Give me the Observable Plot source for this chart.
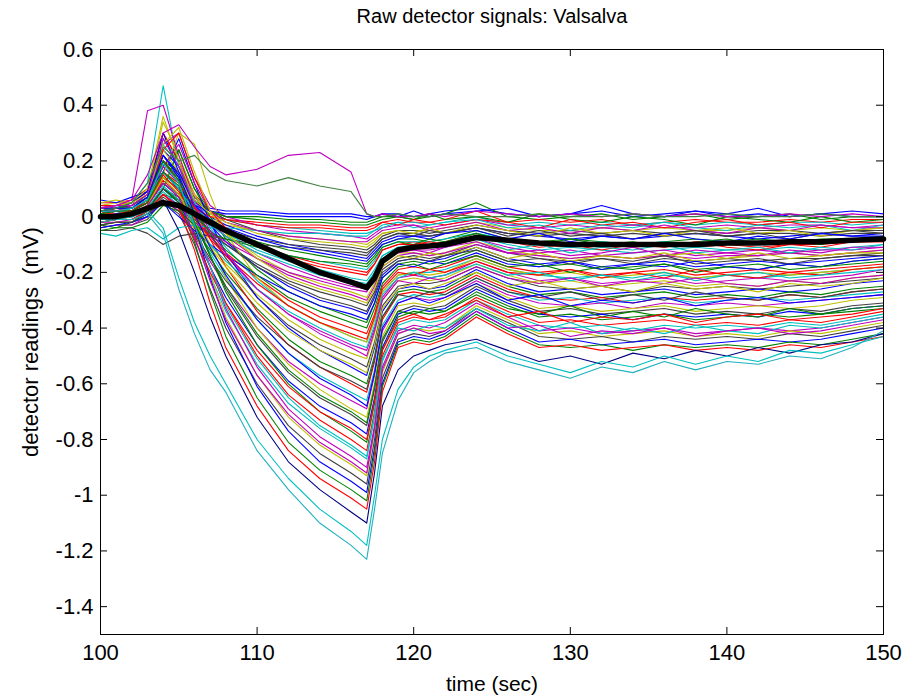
<!DOCTYPE html>
<html>
<head>
<meta charset="utf-8">
<script src="https://cdn.jsdelivr.net/npm/d3@7"></script>
<script src="https://cdn.jsdelivr.net/npm/@observablehq/plot@0.6"></script>
<style>
  html, body { margin: 0; padding: 0; background: #ffffff; }
  #chart svg { display: block; font-family: "Liberation Sans", Arial, sans-serif; }
</style>
</head>
<body>
<div id="chart"></div>
<script>
// ---------- data ----------
const titleText = "Raw detector signals: Valsalva";
const xLabel = "time (sec)";
const yLabel = "detector readings\u00a0 (mV)";

const times = [100,101,102,103,104,105,106,107,108,110,112,114,116,117,117.5,118,119,120,121,122,124,126,128,130,132,134,136,138,140,142,144,146,148,150];

const xTicks = [100,110,120,130,140,150];
const yTicks = [0.6,0.4,0.2,0,-0.2,-0.4,-0.6,-0.8,-1,-1.2,-1.4];

// mean signal (thick black)
const meanSignal = [0.00,0.00,0.01,0.03,0.05,0.04,0.01,-0.02,-0.05,-0.10,-0.15,-0.20,-0.235,-0.255,-0.22,-0.16,-0.12,-0.11,-0.105,-0.10,-0.075,-0.085,-0.095,-0.10,-0.10,-0.10,-0.10,-0.10,-0.095,-0.095,-0.09,-0.09,-0.085,-0.08];

// individual detector signals
const signals = [
  [0.03,0.04,0.03,0.06,0.12,0.08,0.05,0.03,0.02,0.02,0.01,0.01,0.01,0.00,0.00,0.01,0.01,0.00,0.01,0.02,0.03,0.01,0.00,0.01,0.02,0.00,0.01,0.02,0.00,0.01,0.00,0.01,0.00,0.00],
  [0.02,0.03,0.04,0.08,0.22,0.15,0.06,0.02,0.00,0.00,-0.01,-0.01,-0.02,-0.02,-0.01,0.00,0.00,-0.01,0.00,0.01,0.05,0.00,-0.01,0.00,0.01,-0.01,0.00,0.01,-0.01,0.00,0.01,-0.01,0.00,0.00],
  [0.05,0.05,0.06,0.10,0.30,0.20,0.08,0.02,-0.01,-0.02,-0.03,-0.03,-0.04,-0.04,-0.03,-0.02,-0.01,-0.02,-0.02,-0.01,0.02,-0.02,-0.01,-0.02,-0.01,-0.03,-0.02,-0.01,-0.02,-0.02,-0.01,-0.02,-0.01,-0.01],
  [0.00,0.01,0.02,0.05,0.18,0.12,0.04,0.01,-0.01,-0.03,-0.04,-0.05,-0.06,-0.06,-0.05,-0.03,-0.02,-0.02,-0.03,-0.02,0.00,-0.03,-0.02,-0.03,-0.02,-0.03,-0.02,-0.03,-0.02,-0.03,-0.02,-0.02,-0.03,-0.02],
  [0.04,0.03,0.05,0.09,0.26,0.30,0.14,0.04,0.00,-0.03,-0.05,-0.06,-0.07,-0.08,-0.06,-0.04,-0.03,-0.03,-0.04,-0.03,-0.01,-0.03,-0.04,-0.03,-0.04,-0.03,-0.04,-0.04,-0.03,-0.04,-0.03,-0.03,-0.04,-0.03],
  [-0.02,-0.01,0.00,0.03,0.14,0.10,0.03,-0.01,-0.03,-0.05,-0.07,-0.08,-0.09,-0.10,-0.08,-0.06,-0.05,-0.05,-0.05,-0.04,-0.02,-0.04,-0.05,-0.05,-0.04,-0.05,-0.04,-0.05,-0.05,-0.04,-0.05,-0.04,-0.05,-0.04],
  [0.01,0.02,0.03,0.07,0.20,0.16,0.07,0.02,-0.01,-0.05,-0.08,-0.10,-0.11,-0.12,-0.10,-0.07,-0.05,-0.05,-0.06,-0.05,-0.03,-0.05,-0.06,-0.05,-0.06,-0.05,-0.06,-0.05,-0.06,-0.05,-0.05,-0.06,-0.05,-0.05],
  [0.03,0.04,0.04,0.08,0.24,0.18,0.06,0.00,-0.03,-0.07,-0.10,-0.12,-0.14,-0.15,-0.12,-0.09,-0.07,-0.07,-0.07,-0.06,-0.04,-0.06,-0.07,-0.08,-0.07,-0.08,-0.07,-0.06,-0.07,-0.08,-0.07,-0.06,-0.07,-0.06],
  [-0.03,-0.02,-0.02,0.00,0.08,0.06,0.00,-0.03,-0.05,-0.09,-0.12,-0.14,-0.16,-0.17,-0.14,-0.10,-0.08,-0.08,-0.09,-0.08,-0.05,-0.08,-0.09,-0.08,-0.09,-0.10,-0.09,-0.08,-0.09,-0.08,-0.09,-0.08,-0.08,-0.07],
  [0.02,0.03,0.03,0.06,0.16,0.12,0.04,-0.01,-0.05,-0.10,-0.14,-0.17,-0.19,-0.20,-0.17,-0.12,-0.10,-0.09,-0.10,-0.09,-0.06,-0.09,-0.10,-0.11,-0.10,-0.11,-0.10,-0.11,-0.10,-0.11,-0.10,-0.10,-0.09,-0.09],
  [0.00,0.01,0.02,0.05,0.28,0.20,0.05,-0.02,-0.06,-0.12,-0.16,-0.19,-0.22,-0.23,-0.19,-0.14,-0.11,-0.10,-0.11,-0.10,-0.07,-0.10,-0.12,-0.11,-0.12,-0.13,-0.12,-0.11,-0.12,-0.12,-0.11,-0.12,-0.11,-0.10],
  [-0.01,0.00,0.01,0.04,0.12,0.08,0.02,-0.03,-0.07,-0.13,-0.18,-0.22,-0.25,-0.26,-0.22,-0.16,-0.12,-0.12,-0.12,-0.11,-0.08,-0.11,-0.13,-0.12,-0.14,-0.13,-0.12,-0.14,-0.13,-0.12,-0.13,-0.12,-0.12,-0.11],
  [0.04,0.05,0.05,0.09,0.34,0.22,0.08,0.00,-0.06,-0.14,-0.20,-0.24,-0.27,-0.29,-0.24,-0.17,-0.13,-0.13,-0.14,-0.13,-0.09,-0.12,-0.14,-0.15,-0.14,-0.15,-0.14,-0.13,-0.15,-0.14,-0.13,-0.14,-0.13,-0.12],
  [-0.04,-0.03,-0.03,-0.01,0.06,0.02,-0.03,-0.07,-0.10,-0.17,-0.23,-0.27,-0.30,-0.32,-0.27,-0.19,-0.15,-0.14,-0.15,-0.14,-0.10,-0.13,-0.15,-0.16,-0.15,-0.17,-0.15,-0.16,-0.15,-0.16,-0.15,-0.15,-0.14,-0.13],
  [0.01,0.02,0.02,0.06,0.22,0.16,0.04,-0.03,-0.09,-0.18,-0.25,-0.30,-0.33,-0.35,-0.29,-0.21,-0.16,-0.15,-0.16,-0.15,-0.11,-0.15,-0.17,-0.16,-0.18,-0.17,-0.16,-0.18,-0.17,-0.16,-0.17,-0.16,-0.15,-0.14],
  [0.02,0.03,0.04,0.07,0.18,0.24,0.10,0.00,-0.08,-0.19,-0.27,-0.32,-0.36,-0.38,-0.31,-0.22,-0.17,-0.16,-0.17,-0.16,-0.12,-0.16,-0.18,-0.17,-0.19,-0.18,-0.17,-0.19,-0.18,-0.19,-0.17,-0.18,-0.16,-0.15],
  [-0.02,-0.01,0.00,0.03,0.10,0.06,-0.01,-0.07,-0.13,-0.22,-0.30,-0.36,-0.40,-0.42,-0.35,-0.25,-0.19,-0.18,-0.19,-0.18,-0.14,-0.18,-0.20,-0.19,-0.21,-0.20,-0.19,-0.21,-0.20,-0.19,-0.20,-0.19,-0.18,-0.17],
  [0.03,0.04,0.04,0.08,0.26,0.18,0.05,-0.04,-0.11,-0.23,-0.32,-0.38,-0.43,-0.45,-0.37,-0.27,-0.21,-0.20,-0.20,-0.19,-0.15,-0.19,-0.21,-0.22,-0.21,-0.23,-0.21,-0.22,-0.21,-0.22,-0.21,-0.20,-0.19,-0.18],
  [0.00,0.01,0.01,0.04,0.14,0.10,0.01,-0.07,-0.14,-0.26,-0.35,-0.41,-0.46,-0.48,-0.40,-0.29,-0.22,-0.21,-0.22,-0.21,-0.16,-0.20,-0.23,-0.22,-0.24,-0.23,-0.22,-0.24,-0.23,-0.22,-0.23,-0.22,-0.21,-0.19],
  [-0.03,-0.02,-0.02,0.01,0.08,0.04,-0.04,-0.10,-0.17,-0.28,-0.37,-0.44,-0.49,-0.51,-0.42,-0.30,-0.23,-0.22,-0.23,-0.22,-0.17,-0.21,-0.24,-0.23,-0.25,-0.24,-0.23,-0.25,-0.24,-0.25,-0.23,-0.24,-0.22,-0.21],
  [0.02,0.03,0.03,0.07,0.20,0.14,0.03,-0.06,-0.15,-0.29,-0.39,-0.46,-0.51,-0.54,-0.45,-0.32,-0.25,-0.24,-0.24,-0.23,-0.18,-0.22,-0.25,-0.26,-0.25,-0.27,-0.25,-0.26,-0.25,-0.26,-0.25,-0.24,-0.23,-0.22],
  [0.01,0.02,0.02,0.05,0.16,0.28,0.12,-0.02,-0.13,-0.29,-0.40,-0.48,-0.54,-0.57,-0.47,-0.34,-0.26,-0.25,-0.26,-0.25,-0.19,-0.24,-0.27,-0.26,-0.28,-0.27,-0.26,-0.28,-0.27,-0.26,-0.27,-0.26,-0.24,-0.23],
  [-0.02,-0.01,-0.01,0.02,0.10,0.06,-0.04,-0.12,-0.20,-0.33,-0.44,-0.52,-0.57,-0.60,-0.50,-0.36,-0.27,-0.26,-0.27,-0.26,-0.20,-0.25,-0.28,-0.27,-0.29,-0.28,-0.27,-0.29,-0.28,-0.29,-0.27,-0.28,-0.26,-0.25],
  [0.04,0.04,0.05,0.09,0.30,0.20,0.04,-0.08,-0.18,-0.34,-0.46,-0.54,-0.60,-0.63,-0.52,-0.37,-0.28,-0.27,-0.28,-0.27,-0.21,-0.26,-0.29,-0.30,-0.29,-0.31,-0.29,-0.30,-0.29,-0.30,-0.28,-0.29,-0.27,-0.26],
  [0.00,0.00,0.01,0.04,0.12,0.08,-0.03,-0.13,-0.22,-0.37,-0.49,-0.57,-0.63,-0.66,-0.55,-0.39,-0.30,-0.28,-0.29,-0.28,-0.22,-0.27,-0.30,-0.29,-0.31,-0.30,-0.29,-0.31,-0.30,-0.29,-0.30,-0.29,-0.28,-0.27],
  [-0.04,-0.03,-0.03,0.00,0.06,0.02,-0.07,-0.16,-0.25,-0.40,-0.52,-0.60,-0.66,-0.69,-0.57,-0.41,-0.31,-0.29,-0.30,-0.29,-0.23,-0.28,-0.31,-0.32,-0.31,-0.33,-0.31,-0.32,-0.31,-0.32,-0.31,-0.30,-0.29,-0.28],
  [0.02,0.03,0.03,0.06,0.24,0.16,0.02,-0.10,-0.22,-0.40,-0.53,-0.62,-0.69,-0.72,-0.60,-0.43,-0.32,-0.31,-0.32,-0.30,-0.24,-0.29,-0.33,-0.32,-0.34,-0.33,-0.32,-0.34,-0.33,-0.32,-0.33,-0.32,-0.30,-0.29],
  [0.01,0.01,0.02,0.05,0.14,0.10,-0.02,-0.14,-0.26,-0.43,-0.56,-0.65,-0.71,-0.75,-0.62,-0.45,-0.34,-0.32,-0.33,-0.32,-0.25,-0.30,-0.34,-0.33,-0.35,-0.34,-0.33,-0.35,-0.34,-0.35,-0.33,-0.34,-0.32,-0.31],
  [-0.01,0.00,0.00,0.03,0.10,0.05,-0.06,-0.18,-0.29,-0.46,-0.59,-0.68,-0.74,-0.78,-0.65,-0.47,-0.35,-0.33,-0.34,-0.33,-0.26,-0.31,-0.35,-0.36,-0.35,-0.37,-0.35,-0.36,-0.35,-0.36,-0.34,-0.35,-0.33,-0.32],
  [0.03,0.03,0.04,0.08,0.20,0.13,0.00,-0.14,-0.27,-0.46,-0.60,-0.70,-0.77,-0.81,-0.67,-0.48,-0.36,-0.34,-0.35,-0.34,-0.27,-0.32,-0.36,-0.35,-0.37,-0.36,-0.35,-0.37,-0.36,-0.35,-0.36,-0.35,-0.34,-0.33],
  [0.00,0.01,0.01,0.04,0.13,0.08,-0.04,-0.18,-0.31,-0.50,-0.64,-0.73,-0.80,-0.84,-0.70,-0.50,-0.38,-0.36,-0.37,-0.36,-0.29,-0.34,-0.38,-0.37,-0.39,-0.38,-0.37,-0.39,-0.38,-0.39,-0.37,-0.38,-0.36,-0.34],
  [-0.02,-0.01,-0.01,0.02,0.09,0.04,-0.08,-0.21,-0.34,-0.53,-0.67,-0.76,-0.83,-0.87,-0.72,-0.52,-0.39,-0.37,-0.38,-0.37,-0.30,-0.35,-0.39,-0.40,-0.39,-0.41,-0.39,-0.40,-0.39,-0.40,-0.38,-0.39,-0.37,-0.35],
  [0.02,0.02,0.03,0.06,0.18,0.12,-0.02,-0.18,-0.33,-0.54,-0.69,-0.79,-0.86,-0.90,-0.75,-0.54,-0.41,-0.39,-0.40,-0.38,-0.31,-0.36,-0.41,-0.40,-0.42,-0.41,-0.40,-0.42,-0.41,-0.40,-0.41,-0.40,-0.38,-0.36],
  [0.01,0.01,0.02,0.05,0.15,0.09,-0.05,-0.21,-0.36,-0.57,-0.72,-0.82,-0.89,-0.93,-0.77,-0.56,-0.42,-0.40,-0.41,-0.40,-0.32,-0.37,-0.42,-0.41,-0.43,-0.42,-0.41,-0.43,-0.42,-0.43,-0.41,-0.42,-0.40,-0.38],
  [-0.03,-0.02,-0.02,0.01,0.05,0.01,-0.10,-0.26,-0.40,-0.60,-0.75,-0.85,-0.92,-0.96,-0.80,-0.58,-0.44,-0.42,-0.43,-0.41,-0.33,-0.38,-0.43,-0.44,-0.43,-0.45,-0.43,-0.44,-0.43,-0.44,-0.42,-0.43,-0.41,-0.39],
  [0.02,0.02,0.03,0.07,0.22,0.14,-0.03,-0.22,-0.38,-0.61,-0.77,-0.88,-0.95,-0.99,-0.83,-0.60,-0.45,-0.43,-0.44,-0.42,-0.34,-0.40,-0.45,-0.44,-0.46,-0.45,-0.44,-0.46,-0.45,-0.44,-0.45,-0.44,-0.42,-0.40],
  [0.00,0.00,0.01,0.03,0.10,0.05,-0.09,-0.27,-0.43,-0.65,-0.81,-0.91,-0.98,-1.02,-0.85,-0.61,-0.46,-0.44,-0.45,-0.43,-0.35,-0.41,-0.46,-0.47,-0.46,-0.48,-0.46,-0.47,-0.46,-0.47,-0.45,-0.46,-0.44,-0.42],
  [-0.01,0.00,0.00,0.02,0.08,0.03,-0.12,-0.31,-0.47,-0.68,-0.84,-0.94,-1.01,-1.05,-0.88,-0.63,-0.47,-0.45,-0.46,-0.44,-0.36,-0.42,-0.47,-0.46,-0.48,-0.47,-0.46,-0.48,-0.47,-0.48,-0.46,-0.47,-0.45,-0.43],
  [0.02,0.03,0.05,0.12,0.47,0.18,0.05,-0.01,-0.05,-0.10,-0.14,-0.16,-0.18,-0.19,-0.16,-0.11,-0.09,-0.09,-0.09,-0.08,-0.06,-0.08,-0.09,-0.10,-0.09,-0.10,-0.09,-0.10,-0.09,-0.10,-0.09,-0.09,-0.08,-0.08],
  [0.03,0.04,0.06,0.38,0.40,0.22,0.06,-0.02,-0.07,-0.15,-0.21,-0.25,-0.28,-0.30,-0.25,-0.18,-0.14,-0.13,-0.14,-0.13,-0.10,-0.13,-0.14,-0.15,-0.14,-0.15,-0.14,-0.15,-0.14,-0.14,-0.13,-0.14,-0.13,-0.12],
  [0.01,0.02,0.03,0.06,0.15,0.30,0.26,0.08,-0.06,-0.22,-0.32,-0.38,-0.43,-0.45,-0.37,-0.27,-0.21,-0.20,-0.21,-0.20,-0.15,-0.19,-0.21,-0.20,-0.22,-0.21,-0.20,-0.22,-0.21,-0.20,-0.21,-0.20,-0.19,-0.18],
  [-0.05,-0.05,-0.04,-0.06,-0.10,-0.07,-0.06,-0.07,-0.08,-0.10,-0.11,-0.12,-0.13,-0.14,-0.11,-0.08,-0.06,-0.06,-0.07,-0.06,-0.04,-0.06,-0.07,-0.06,-0.07,-0.06,-0.07,-0.06,-0.07,-0.06,-0.06,-0.07,-0.06,-0.06],
  [0.06,0.05,0.07,0.09,0.16,0.10,0.04,0.02,0.01,0.01,0.00,0.00,0.00,-0.01,0.00,0.01,0.00,0.02,0.00,0.01,0.02,0.03,0.00,0.01,0.04,0.01,0.00,0.02,0.01,0.03,0.00,0.01,0.02,0.01],
  [-0.03,-0.04,-0.02,0.02,0.10,0.24,0.10,0.02,0.00,-0.01,-0.02,-0.02,-0.03,-0.03,-0.02,-0.01,0.00,-0.01,0.01,-0.01,0.00,-0.02,0.01,-0.01,-0.02,0.00,-0.01,-0.03,0.00,-0.01,-0.02,0.00,-0.02,-0.01],
  [0.01,0.03,0.02,0.05,0.20,0.12,0.03,0.00,-0.01,-0.03,-0.04,-0.04,-0.05,-0.05,-0.04,-0.02,-0.03,-0.01,-0.02,-0.03,-0.01,-0.02,-0.04,-0.01,-0.03,-0.02,-0.04,-0.02,-0.01,-0.03,-0.02,-0.04,-0.02,-0.02],
  [-0.06,-0.07,-0.05,-0.04,-0.08,-0.04,-0.03,-0.04,-0.04,-0.05,-0.06,-0.06,-0.07,-0.07,-0.05,-0.04,-0.02,-0.04,-0.03,-0.02,-0.01,-0.04,-0.03,-0.05,-0.03,-0.04,-0.02,-0.04,-0.05,-0.03,-0.04,-0.03,-0.05,-0.03],
  [0.02,0.02,0.04,0.08,0.18,0.26,0.12,0.02,-0.02,-0.05,-0.07,-0.08,-0.09,-0.09,-0.07,-0.05,-0.04,-0.03,-0.05,-0.04,-0.02,-0.05,-0.04,-0.06,-0.04,-0.05,-0.03,-0.05,-0.06,-0.04,-0.05,-0.03,-0.04,-0.04],
  [0.05,0.06,0.05,0.10,0.36,0.20,0.06,0.01,-0.02,-0.06,-0.08,-0.09,-0.10,-0.11,-0.09,-0.06,-0.05,-0.06,-0.04,-0.06,-0.03,-0.05,-0.07,-0.04,-0.06,-0.05,-0.07,-0.05,-0.04,-0.06,-0.05,-0.07,-0.05,-0.04],
  [-0.01,0.00,0.01,0.03,0.10,0.07,0.01,-0.03,-0.05,-0.08,-0.10,-0.11,-0.12,-0.13,-0.11,-0.08,-0.06,-0.07,-0.05,-0.06,-0.04,-0.07,-0.05,-0.07,-0.06,-0.08,-0.06,-0.05,-0.07,-0.06,-0.08,-0.06,-0.05,-0.06],
  [0.03,0.03,0.05,0.09,0.30,0.16,0.04,-0.01,-0.04,-0.08,-0.11,-0.13,-0.15,-0.16,-0.13,-0.10,-0.08,-0.07,-0.08,-0.06,-0.05,-0.08,-0.06,-0.09,-0.07,-0.08,-0.06,-0.08,-0.09,-0.07,-0.08,-0.06,-0.07,-0.07],
  [-0.05,-0.04,-0.04,-0.02,0.04,0.02,-0.03,-0.06,-0.08,-0.11,-0.14,-0.16,-0.17,-0.18,-0.15,-0.11,-0.09,-0.10,-0.08,-0.09,-0.06,-0.09,-0.10,-0.08,-0.10,-0.09,-0.11,-0.09,-0.08,-0.10,-0.09,-0.10,-0.08,-0.08],
  [0.00,0.02,0.02,0.06,0.24,0.30,0.14,0.02,-0.04,-0.10,-0.15,-0.18,-0.20,-0.21,-0.17,-0.12,-0.10,-0.10,-0.09,-0.10,-0.07,-0.09,-0.11,-0.10,-0.12,-0.10,-0.11,-0.09,-0.11,-0.12,-0.10,-0.11,-0.09,-0.09],
  [0.02,0.01,0.03,0.06,0.16,0.10,0.02,-0.03,-0.07,-0.13,-0.17,-0.21,-0.23,-0.24,-0.20,-0.14,-0.11,-0.12,-0.10,-0.11,-0.08,-0.12,-0.10,-0.13,-0.11,-0.12,-0.10,-0.13,-0.12,-0.11,-0.13,-0.11,-0.12,-0.10],
  [-0.02,-0.02,-0.01,0.02,0.08,0.04,-0.02,-0.06,-0.09,-0.15,-0.20,-0.23,-0.26,-0.27,-0.22,-0.16,-0.13,-0.12,-0.13,-0.11,-0.09,-0.13,-0.12,-0.14,-0.13,-0.11,-0.14,-0.12,-0.13,-0.14,-0.12,-0.13,-0.11,-0.11],
  [0.03,0.04,0.05,0.08,0.26,0.32,0.16,0.02,-0.06,-0.15,-0.22,-0.26,-0.29,-0.31,-0.26,-0.18,-0.14,-0.15,-0.13,-0.14,-0.11,-0.15,-0.13,-0.16,-0.14,-0.15,-0.13,-0.16,-0.15,-0.13,-0.15,-0.14,-0.13,-0.13],
  [0.00,0.01,0.01,0.04,0.12,0.07,0.00,-0.05,-0.10,-0.18,-0.24,-0.29,-0.32,-0.34,-0.28,-0.20,-0.16,-0.15,-0.16,-0.14,-0.12,-0.16,-0.15,-0.17,-0.15,-0.16,-0.14,-0.17,-0.16,-0.15,-0.17,-0.15,-0.14,-0.14],
  [-0.04,-0.03,-0.02,0.00,0.05,0.00,-0.05,-0.10,-0.14,-0.21,-0.27,-0.32,-0.35,-0.37,-0.31,-0.22,-0.17,-0.18,-0.16,-0.17,-0.13,-0.17,-0.18,-0.16,-0.19,-0.17,-0.18,-0.16,-0.18,-0.19,-0.17,-0.18,-0.16,-0.15],
  [0.02,0.03,0.03,0.06,0.20,0.13,0.02,-0.06,-0.12,-0.21,-0.29,-0.34,-0.38,-0.40,-0.33,-0.24,-0.18,-0.17,-0.19,-0.17,-0.14,-0.18,-0.17,-0.20,-0.18,-0.19,-0.17,-0.20,-0.18,-0.17,-0.19,-0.18,-0.17,-0.16],
  [0.01,0.01,0.02,0.05,0.15,0.09,0.00,-0.08,-0.14,-0.24,-0.32,-0.38,-0.42,-0.44,-0.36,-0.26,-0.20,-0.21,-0.19,-0.20,-0.16,-0.20,-0.21,-0.19,-0.22,-0.20,-0.22,-0.19,-0.21,-0.22,-0.20,-0.21,-0.19,-0.18],
  [-0.01,0.00,0.00,0.03,0.11,0.06,-0.03,-0.10,-0.16,-0.26,-0.34,-0.40,-0.45,-0.47,-0.39,-0.28,-0.22,-0.20,-0.22,-0.21,-0.17,-0.21,-0.20,-0.23,-0.21,-0.22,-0.20,-0.23,-0.21,-0.20,-0.22,-0.21,-0.20,-0.19],
  [0.03,0.04,0.04,0.08,0.28,0.18,0.04,-0.05,-0.13,-0.26,-0.35,-0.42,-0.47,-0.50,-0.41,-0.30,-0.23,-0.24,-0.22,-0.23,-0.18,-0.22,-0.24,-0.22,-0.25,-0.23,-0.24,-0.22,-0.24,-0.25,-0.23,-0.24,-0.22,-0.21],
  [0.00,0.01,0.01,0.04,0.14,0.08,-0.02,-0.11,-0.18,-0.31,-0.41,-0.48,-0.53,-0.56,-0.46,-0.33,-0.26,-0.24,-0.26,-0.24,-0.20,-0.25,-0.23,-0.26,-0.25,-0.27,-0.24,-0.26,-0.25,-0.27,-0.24,-0.25,-0.24,-0.22],
  [-0.03,-0.02,-0.02,0.01,0.07,0.03,-0.06,-0.15,-0.23,-0.36,-0.46,-0.54,-0.59,-0.62,-0.51,-0.36,-0.28,-0.29,-0.27,-0.28,-0.22,-0.27,-0.29,-0.27,-0.30,-0.28,-0.30,-0.27,-0.29,-0.30,-0.28,-0.29,-0.27,-0.26],
  [0.02,0.03,0.03,0.07,0.22,0.15,0.01,-0.11,-0.21,-0.37,-0.49,-0.58,-0.64,-0.68,-0.56,-0.40,-0.31,-0.29,-0.31,-0.29,-0.24,-0.30,-0.28,-0.32,-0.30,-0.31,-0.29,-0.32,-0.30,-0.29,-0.31,-0.30,-0.29,-0.28],
  [0.01,0.02,0.02,0.05,0.16,0.11,-0.02,-0.14,-0.25,-0.42,-0.55,-0.64,-0.70,-0.74,-0.61,-0.44,-0.34,-0.35,-0.33,-0.34,-0.28,-0.33,-0.35,-0.32,-0.36,-0.34,-0.36,-0.33,-0.35,-0.36,-0.33,-0.35,-0.33,-0.32],
  [-0.02,-0.01,-0.01,0.02,0.08,0.03,-0.08,-0.20,-0.31,-0.48,-0.61,-0.70,-0.76,-0.80,-0.66,-0.48,-0.37,-0.35,-0.37,-0.35,-0.30,-0.36,-0.34,-0.38,-0.36,-0.37,-0.35,-0.38,-0.36,-0.35,-0.37,-0.36,-0.35,-0.33],
  [0.02,0.02,0.03,0.06,0.19,0.12,-0.03,-0.18,-0.32,-0.51,-0.65,-0.75,-0.82,-0.86,-0.71,-0.51,-0.40,-0.41,-0.39,-0.40,-0.33,-0.39,-0.41,-0.38,-0.42,-0.40,-0.42,-0.39,-0.41,-0.42,-0.39,-0.40,-0.38,-0.36],
  [0.00,0.01,0.01,0.04,0.12,0.07,-0.07,-0.23,-0.37,-0.57,-0.71,-0.81,-0.88,-0.92,-0.76,-0.55,-0.42,-0.40,-0.42,-0.41,-0.34,-0.40,-0.39,-0.43,-0.41,-0.42,-0.40,-0.43,-0.41,-0.40,-0.42,-0.41,-0.39,-0.37]
];

// outlying signals
const deepNavy     = [0.00,0.01,0.01,0.03,0.06,-0.05,-0.20,-0.36,-0.50,-0.72,-0.88,-0.98,-1.06,-1.10,-0.92,-0.68,-0.55,-0.50,-0.48,-0.46,-0.44,-0.48,-0.52,-0.50,-0.53,-0.49,-0.51,-0.48,-0.50,-0.47,-0.49,-0.46,-0.45,-0.42];
const deepCyanA    = [-0.01,-0.01,0.00,0.02,-0.04,-0.22,-0.38,-0.50,-0.60,-0.80,-0.94,-1.05,-1.13,-1.18,-1.00,-0.80,-0.62,-0.54,-0.50,-0.48,-0.45,-0.50,-0.53,-0.56,-0.52,-0.54,-0.50,-0.53,-0.50,-0.52,-0.48,-0.49,-0.46,-0.43];
const deepCyanB    = [-0.02,-0.01,-0.01,0.01,-0.06,-0.26,-0.42,-0.55,-0.63,-0.84,-0.98,-1.10,-1.18,-1.23,-1.05,-0.85,-0.66,-0.56,-0.52,-0.49,-0.47,-0.52,-0.55,-0.58,-0.54,-0.56,-0.52,-0.55,-0.52,-0.53,-0.50,-0.51,-0.47,-0.41];
const upperMagenta = [0.03,0.04,0.06,0.15,0.30,0.33,0.25,0.18,0.15,0.17,0.22,0.23,0.16,0.01,0.00,0.01,0.00,0.00,0.01,0.00,0.02,0.01,0.00,0.01,0.00,0.01,0.00,0.01,0.00,0.00,0.01,0.00,0.01,0.00];
const upperGreen   = [0.02,0.03,0.05,0.12,0.25,0.20,0.22,0.16,0.13,0.11,0.14,0.11,0.09,0.01,0.00,0.00,0.01,0.00,0.00,0.01,0.00,0.00,0.01,0.00,0.00,0.01,0.00,0.00,0.01,0.00,0.00,0.01,0.00,0.00];

// MATLAB-style line color order
const palette = ["#0000ff","#008000","#ff0000","#00bfbf","#bf00bf","#bfbf00","#404040"];

// ---------- build tables ----------
function toRows(values, id, color) {
  if (values.length !== times.length) throw new Error("series " + id + " has " + values.length + " values");
  return values.map((v, j) => ({t: times[j], v, id, c: color}));
}
const rows = signals.flatMap((vals, i) => toRows(vals, "s" + i, palette[i % palette.length]));
const outlierRows = [
  ...toRows(upperMagenta, "um", "#bf00bf"),
  ...toRows(upperGreen, "ug", "#408040"),
  ...toRows(deepNavy, "dn", "#000080"),
  ...toRows(deepCyanA, "ca", "#00bfbf"),
  ...toRows(deepCyanB, "cb", "#20b0c0")
];
const meanRows = toRows(meanSignal, "mean", "#000000");

const W = 908, H = 699;
const mL = 100, mR = 25, mT = 49, mB = 65;
const innerW = W - mL - mR, innerH = H - mT - mB;
const tickLen = 7;

const chart = Plot.plot({
  width: W,
  height: H,
  marginLeft: mL,
  marginRight: mR,
  marginTop: mT,
  marginBottom: mB,
  style: {fontFamily: "'Liberation Sans', Arial, sans-serif", background: "#ffffff", color: "#000000"},
  x: {domain: [100, 150], label: null},
  y: {domain: [-1.5, 0.6], label: null},
  color: {type: "identity"},
  marks: [
    Plot.line(rows, {x: "t", y: "v", z: "id", stroke: "c", strokeWidth: 1.1}),
    Plot.line(outlierRows, {x: "t", y: "v", z: "id", stroke: "c", strokeWidth: 1.1}),
    Plot.line(meanRows, {x: "t", y: "v", stroke: "#000000", strokeWidth: 5.5, strokeLinejoin: "round"}),
    // inward tick marks (MATLAB style) on all four sides
    Plot.tickX(xTicks, {x: d => d, stroke: "#000000", insetTop: innerH - tickLen}),
    Plot.tickX(xTicks, {x: d => d, stroke: "#000000", insetBottom: innerH - tickLen}),
    Plot.tickY(yTicks, {y: d => d, stroke: "#000000", insetRight: innerW - tickLen}),
    Plot.tickY(yTicks, {y: d => d, stroke: "#000000", insetLeft: innerW - tickLen}),
    Plot.frame({stroke: "#000000", strokeWidth: 1}),
    Plot.axisX(xTicks, {tickSize: 0, tickPadding: 10, fontSize: 22, label: null}),
    Plot.axisY(yTicks, {tickSize: 0, tickPadding: 7, fontSize: 22, label: null,
      tickFormat: d => String(Math.round(d * 10) / 10)}),
    Plot.text([titleText], {frameAnchor: "top", dy: -33, fontSize: 20, lineAnchor: "middle", fill: "#000000"}),
    Plot.text([xLabel], {frameAnchor: "bottom", dy: 50, fontSize: 21, lineAnchor: "middle", fill: "#000000"}),
    Plot.text([yLabel], {frameAnchor: "left", dx: -70, rotate: -90, fontSize: 22, textAnchor: "middle", lineAnchor: "middle", fill: "#000000"})
  ]
});
document.getElementById("chart").appendChild(chart);
</script>
</body>
</html>
